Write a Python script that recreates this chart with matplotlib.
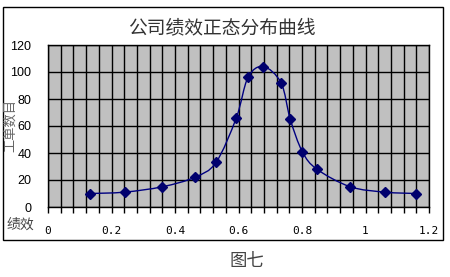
import matplotlib.pyplot as plt
import numpy as np
from matplotlib.path import Path
from matplotlib.patches import PathPatch, Rectangle
from matplotlib.ticker import MultipleLocator

plt.rcParams['font.family'] = ['Noto Sans CJK SC', 'DejaVu Sans']

# 绩效 (x) 与 工单数目 (y)
performance = [0.133, 0.241, 0.360, 0.462, 0.529, 0.593, 0.630, 0.678,
               0.734, 0.763, 0.801, 0.847, 0.952, 1.062, 1.160]
work_orders = [10, 11, 15, 22, 33, 66, 96, 104, 92, 65, 41, 28, 15, 11, 10]

title = "公司绩效正态分布曲线"
x_ticks = [0, 0.2, 0.4, 0.6, 0.8, 1, 1.2]
x_tick_labels = ["0", "0.2", "0.4", "0.6", "0.8", "1", "1.2"]
y_ticks = [0, 20, 40, 60, 80, 100, 120]


def smooth_path(xs, ys):
    # Excel-style smoothed line: cubic Bezier segments through each point
    pts = np.column_stack([xs, ys])
    n = len(pts)
    verts = [pts[0]]
    codes = [Path.MOVETO]
    for i in range(n - 1):
        p0 = pts[max(i - 1, 0)]
        p1 = pts[i]
        p2 = pts[i + 1]
        p3 = pts[min(i + 2, n - 1)]
        c1 = p1 + (p2 - p0) / 6
        c2 = p2 - (p3 - p1) / 6
        verts += [c1, c2, p2]
        codes += [Path.CURVE4] * 3
    return Path(verts, codes)


W, H = 450, 277
fig = plt.figure(figsize=(W / 100, H / 100), dpi=100)
fig.patch.set_facecolor("white")

# outer chart border
fig.patches.append(Rectangle((3 / W, 1 - 240 / H), 440 / W, 233 / H,
                             transform=fig.transFigure, fill=False,
                             edgecolor="black", linewidth=1))

fig.text(10.5 / W, 1 - 126 / H, "工单数目", ha="center", va="center",
         rotation=90, fontsize=9.5, color="#666666")

ax = fig.add_axes([48 / W, 1 - 207 / H, (429 - 48) / W, (207 - 45) / H])
ax.set_facecolor("#c0c0c0")
ax.set_xlim(0, 1.2)
ax.set_ylim(0, 120)

ax.xaxis.set_minor_locator(MultipleLocator(0.04))
ax.set_xticks(x_ticks)
ax.set_xticklabels(x_tick_labels, family="DejaVu Sans Mono", fontsize=8)
ax.set_yticks(y_ticks)
ax.set_yticklabels([str(v) for v in y_ticks], family="Liberation Sans", fontsize=9)

ax.grid(True, which="both", axis="x", color="black", linewidth=1)
ax.grid(True, which="major", axis="y", color="black", linewidth=1)
ax.set_axisbelow(True)
ax.tick_params(axis="x", which="both", direction="out", length=4, width=1, pad=10)
ax.tick_params(axis="y", length=0, pad=12)
for s in ax.spines.values():
    s.set_color("black")
    s.set_linewidth(1)

ax.add_patch(PathPatch(smooth_path(performance, work_orders), fill=False,
                       edgecolor="#000080", linewidth=1, zorder=3))
ax.plot(performance, work_orders, linestyle="none", marker="D", markersize=5,
        color="#00006e", zorder=4)

fig.text(222 / W, 1 - 29 / H, title, ha="center", va="center",
         fontsize=13.5, color="#333333")
fig.text(20 / W, 1 - 225 / H, "绩效", ha="center", va="center",
         fontsize=10, color="#444444")
fig.text(247 / W, 1 - 261 / H, "图七", ha="center", va="center",
         fontsize=12.5, color="#444444")

fig.savefig("out.png", dpi=100)
